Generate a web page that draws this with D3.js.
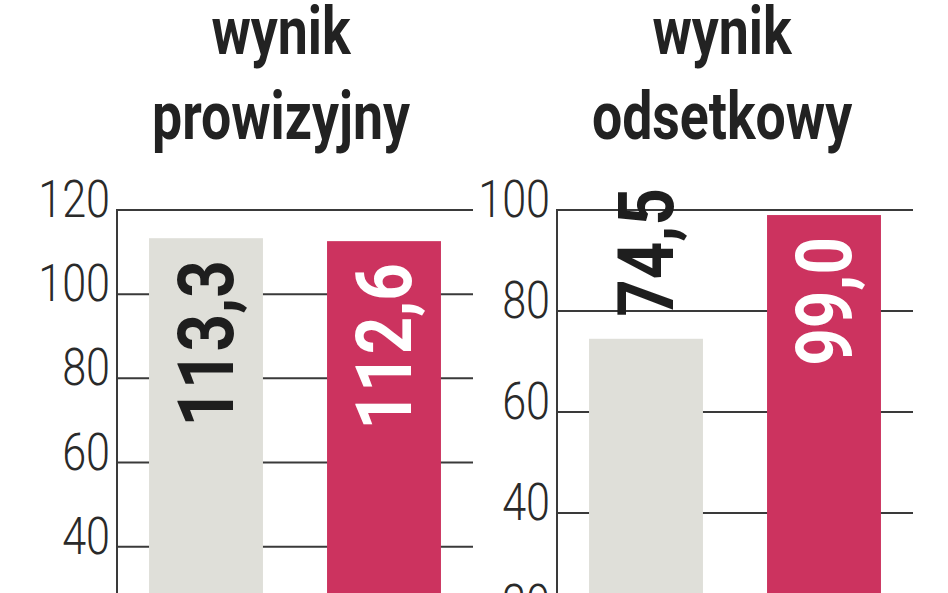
<!DOCTYPE html>
<html>
<head>
<meta charset="utf-8">
<script src="https://cdn.jsdelivr.net/npm/d3@7"></script>
<style>
  html, body { margin: 0; padding: 0; background: #fff; overflow: hidden; }
  svg { display: block; }
</style>
</head>
<body>
<svg id="chart" width="948" height="593"></svg>
<script>
// ---- data ----
const categories = ["poprzedni", "bieżący"];
const titlesLeft = ["wynik", "prowizyjny"];
const titlesRight = ["wynik", "odsetkowy"];
const valuesLeft = [113.3, 112.6];
const valuesRight = [74.5, 99.0];
const ticksLeft = [40, 60, 80, 100, 120];
const ticksRight = [20, 40, 60, 80, 100];
const domainLeft = [0, 120];
const domainRight = [0, 100];

// ---- style ----
const barColors = ["#dfdfd9", "#cc335f"];
const labelColors = ["#1e1e1e", "#ffffff"];
const lineColor = "#3a3a3a";
const textColor = "#222";

const svg = d3.select("#chart");
const fmt = v => d3.format(".1f")(v).replace(".", ",");

const panels = [
  { titles: titlesLeft, values: valuesLeft, ticks: ticksLeft, domain: domainLeft,
    x0: 117, x1: 473, titleX: 281, inside: [true, true] },
  { titles: titlesRight, values: valuesRight, ticks: ticksRight, domain: domainRight,
    x0: 557, x1: 913, titleX: 722, inside: [false, true] }
];

panels.forEach(p => {
  const g = svg.append("g");
  const y = d3.scaleLinear().domain(p.domain).range([715, 210]);
  const x = d3.scaleBand().domain(categories).range([p.x0, p.x1])
    .paddingInner(0.36).paddingOuter(0.18);

  // titles
  p.titles.forEach((t, i) => {
    g.append("text")
      .attr("transform", `translate(${p.titleX},${54 + i * 85}) scale(0.8,1)`)
      .attr("text-anchor", "middle")
      .style("font-family", "Roboto, 'DejaVu Sans Condensed', sans-serif")
      .style("font-weight", 700)
      .style("font-size", "67px")
      .attr("fill", textColor)
      .text(t);
  });

  // grid lines
  g.selectAll("line.grid").data(p.ticks).join("line")
    .attr("class", "grid")
    .attr("x1", p.x0).attr("x2", p.x1)
    .attr("y1", d => y(d)).attr("y2", d => y(d))
    .attr("stroke", lineColor).attr("stroke-width", 2);

  // tick labels
  g.selectAll("text.tick").data(p.ticks).join("text")
    .attr("class", "tick")
    .attr("transform", d => `translate(${p.x0 - 7},${y(d) + 7}) scale(0.83,1)`)
    .attr("text-anchor", "end")
    .style("font-family", "Roboto, 'DejaVu Sans Condensed', sans-serif")
    .style("font-weight", 300)
    .style("font-size", "52px")
    .attr("fill", "#2a2a2a")
    .text(d => d);

  // bars
  g.selectAll("rect.bar").data(p.values).join("rect")
    .attr("class", "bar")
    .attr("x", (d, i) => x(categories[i]))
    .attr("width", x.bandwidth())
    .attr("y", d => y(d))
    .attr("height", d => y(0) - y(d))
    .attr("fill", (d, i) => barColors[i]);

  // axis line
  g.append("line")
    .attr("x1", p.x0).attr("x2", p.x0)
    .attr("y1", y(p.domain[1]) - 1).attr("y2", y(0))
    .attr("stroke", lineColor).attr("stroke-width", 2);

  // value labels (rotated)
  g.selectAll("text.val").data(p.values).join("text")
    .attr("class", "val")
    .attr("transform", (d, i) => {
      const cx = x(categories[i]) + x.bandwidth() / 2 + 27;
      const yy = p.inside[i] ? y(d) + 22 : y(d) - 22;
      return `translate(${cx},${yy}) rotate(-90) scale(0.85,1)`;
    })
    .attr("text-anchor", (d, i) => p.inside[i] ? "end" : "start")
    .style("font-family", "Roboto, 'DejaVu Sans Condensed', sans-serif")
    .style("font-weight", 700)
    .style("font-size", "77px")
    .attr("fill", (d, i) => p.inside[i] ? labelColors[i] : labelColors[0])
    .text(d => fmt(d));
});
</script>
</body>
</html>
